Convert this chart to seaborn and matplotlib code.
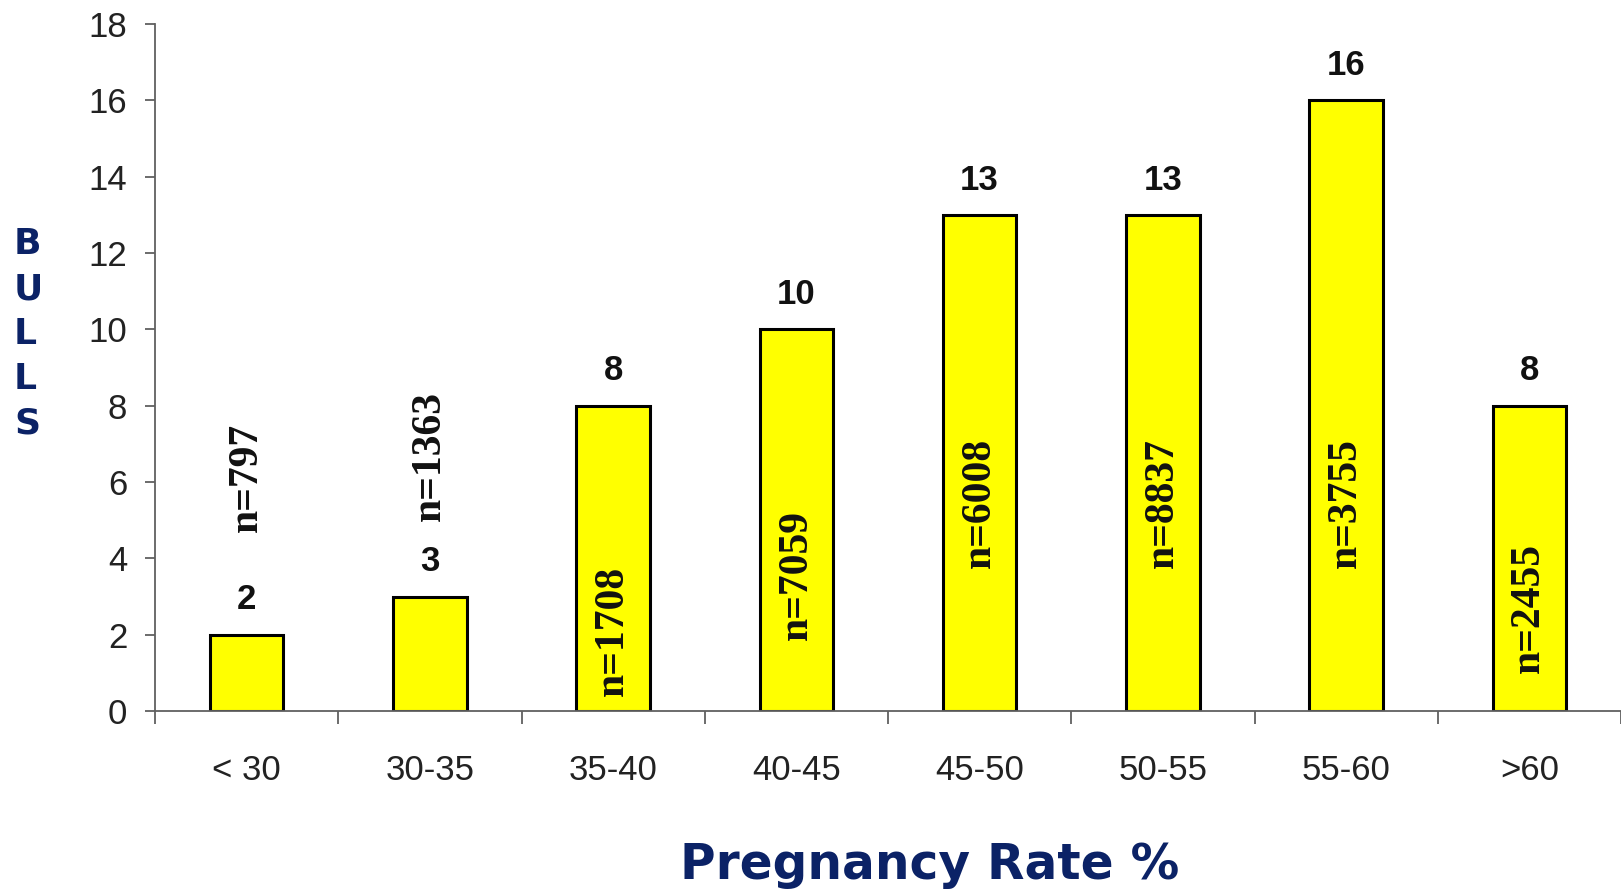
import matplotlib
matplotlib.use("Agg")
import matplotlib.pyplot as plt
import numpy as np
import pandas as pd
import seaborn as sns
from matplotlib.ticker import FixedLocator

# Pregnancy-rate classes and number of bulls in each
rate_classes = ["< 30", "30-35", "35-40", "40-45", "45-50", "50-55", "55-60", ">60"]
bulls = [2, 3, 8, 10, 13, 13, 16, 8]
# Number of inseminations behind each class
inseminations = [797, 1363, 1708, 7059, 6008, 8837, 3755, 2455]
# Height (in data units) at which each vertical "n=" label is centred
n_label_y = [6.13, 6.67, 2.10, 3.57, 5.45, 5.45, 5.45, 2.71]
y_ticks = list(range(0, 19, 2))

NAVY = "#0b2266"
AXIS_GREY = "#606060"

sns.set_style("white")
plt.rcParams["font.family"] = ["Liberation Sans", "DejaVu Sans"]

df = pd.DataFrame({"rate": rate_classes, "bulls": bulls})

fig = plt.figure(figsize=(16.21, 8.91), dpi=100)
ax = fig.add_axes([155 / 1621, 180 / 891, 1 - 155 / 1621, 687 / 891])

sns.barplot(data=df, x="rate", y="bulls", order=rate_classes, color="#ffff00",
            saturation=1, width=0.4, edgecolor="black", linewidth=2.2, ax=ax)

ax.set_xlim(-0.5, 7.5)
ax.set_ylim(0, 18)
ax.set_yticks(y_ticks)
ax.set_xlabel("")
ax.set_ylabel("")

for side in ("top", "right"):
    ax.spines[side].set_visible(False)
for side in ("left", "bottom"):
    ax.spines[side].set_color(AXIS_GREY)
    ax.spines[side].set_linewidth(1.3)

# Category separators drawn as minor ticks between bars
ax.xaxis.set_minor_locator(FixedLocator(np.arange(-0.5, 8.0, 1.0)))
ax.tick_params(axis="x", which="major", length=0, pad=31, labelsize=25,
               labelcolor="#222222")
ax.tick_params(axis="x", which="minor", length=9, width=1.3, color=AXIS_GREY,
               direction="out", bottom=True)
ax.tick_params(axis="y", which="major", length=7, width=1.3, color=AXIS_GREY,
               direction="out", left=True, pad=13, labelsize=25,
               labelcolor="#222222")

# Bull counts above each bar
for container in ax.containers:
    for bar, val in zip(container, bulls):
        ax.annotate(f"{val}", xy=(bar.get_x() + bar.get_width() / 2, val),
                    xytext=(0, 25), textcoords="offset points",
                    ha="center", va="center", fontsize=25, fontweight="bold",
                    color="#111111", family=["Liberation Sans", "DejaVu Sans"])

# Insemination counts, written vertically
for i, (n, yy) in enumerate(zip(inseminations, n_label_y)):
    ax.text(i, yy, f"n={n}", rotation=90, ha="center", va="center",
            fontsize=30, fontweight="bold", color="#111111",
            family=["Liberation Serif", "DejaVu Serif"])

# Axis titles
fig.text(14 / 1621, 1 - 334 / 891, "B\nU\nL\nL\nS", ha="left", va="center",
         multialignment="left", linespacing=1.4, fontsize=26,
         fontweight="bold", color=NAVY, family=["DejaVu Sans"])
fig.text(930 / 1621, 1 - 879 / 891, "Pregnancy Rate %", ha="center",
         va="baseline", fontsize=35, fontweight="bold", color=NAVY,
         family=["DejaVu Sans"])

fig.savefig("out.png", dpi=100, facecolor="white")
